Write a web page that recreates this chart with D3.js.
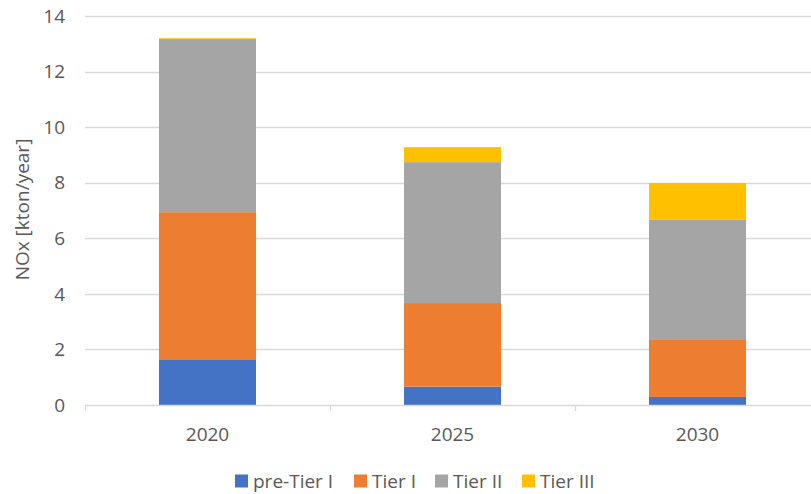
<!DOCTYPE html>
<html>
  <head>
    <meta charset="utf-8">
    <script src="https://cdnjs.cloudflare.com/ajax/libs/d3/7.8.5/d3.min.js"></script>
    <style>
      body { margin: 0; background: #fff; overflow: hidden; }
      text { font-family: "Open Sans", "Liberation Sans", sans-serif; fill: #595959; }
    </style>
  </head>
  <body>
    <div id="chart"></div>
    <script>
      // data
      var years = ["2020", "2025", "2030"];
      var tiers = ["pre-Tier I", "Tier I", "Tier II", "Tier III"];
      var preTier1 = [1.62, 0.66, 0.29];
      var tier1 = [5.32, 3.01, 2.05];
      var tier2 = [6.23, 5.07, 4.34];
      var tier3 = [0.03, 0.54, 1.31];
      var yTicks = [0, 2, 4, 6, 8, 10, 12, 14];
      var colors = ["#4472C4", "#ED7D31", "#A5A5A5", "#FFC000"];

      var W = 811, H = 494;
      // the plot area runs a little past the right edge, as in the original
      var margin = {top: 16, left: 85, bottom: 89},
          width = 735,
          height = H - margin.top - margin.bottom;

      var rows = years.map(function(y, i) {
        return {year: y, "pre-Tier I": preTier1[i], "Tier I": tier1[i], "Tier II": tier2[i], "Tier III": tier3[i]};
      });
      var stacked = d3.stack().keys(tiers)(rows);

      var x = d3.scaleBand().domain(years).range([0, width]).paddingInner(0.604).paddingOuter(0.302);
      var xOuter = d3.scaleBand().domain(years).range([0, width]);
      var y = d3.scaleLinear().domain([0, 14]).range([height, 0]);
      var color = d3.scaleOrdinal().domain(tiers).range(colors);

      var svg = d3.select("#chart").append("svg")
          .attr("width", W)
          .attr("height", H);
      var g = svg.append("g")
          .attr("transform", "translate(" + margin.left + "," + margin.top + ")");

      // gridlines
      g.selectAll(".grid")
          .data(yTicks.filter(function(d) { return d > 0; }))
          .enter().append("line")
          .attr("x1", 0).attr("x2", width)
          .attr("y1", function(d) { return Math.round(y(d)) + 0.5; })
          .attr("y2", function(d) { return Math.round(y(d)) + 0.5; })
          .attr("stroke", "#D9D9D9")
          .attr("stroke-width", 1.3);

      // y tick labels
      g.selectAll(".ylab")
          .data(yTicks)
          .enter().append("text")
          .attr("x", -20)
          .attr("y", function(d) { return y(d); })
          .attr("dy", "0.35em")
          .attr("text-anchor", "end")
          .style("font-size", "19px")
          .text(function(d) { return d; });

      // bars
      g.selectAll(".layer")
          .data(stacked)
          .enter().append("g")
          .attr("fill", function(d) { return color(d.key); })
          .selectAll("rect")
          .data(function(d) { return d; })
          .enter().append("rect")
          .attr("x", function(d) { return x(d.data.year); })
          .attr("width", x.bandwidth())
          .attr("y", function(d) { return y(d[1]); })
          .attr("height", function(d) { return y(d[0]) - y(d[1]); });

      // x axis line and tick marks at category boundaries
      g.append("line")
          .attr("x1", 0).attr("x2", width)
          .attr("y1", height + 0.5).attr("y2", height + 0.5)
          .attr("stroke", "#D9D9D9").attr("stroke-width", 1.3);
      var bounds = years.map(function(d) { return xOuter(d); }).concat([width]);
      g.selectAll(".xtick")
          .data(bounds)
          .enter().append("line")
          .attr("x1", function(d) { return Math.round(d) + 0.5; })
          .attr("x2", function(d) { return Math.round(d) + 0.5; })
          .attr("y1", height).attr("y2", height + 6)
          .attr("stroke", "#D9D9D9").attr("stroke-width", 1.3);

      g.selectAll(".xlab")
          .data(years)
          .enter().append("text")
          .attr("x", function(d) { return x(d) + x.bandwidth() / 2; })
          .attr("y", height + 29)
          .attr("dy", "0.35em")
          .attr("text-anchor", "middle")
          .style("font-size", "19px")
          .text(function(d) { return d; });

      // y axis title
      svg.append("text")
          .attr("transform", "translate(22," + (margin.top + height / 2 - 1) + ") rotate(-90)")
          .attr("text-anchor", "middle")
          .attr("dy", "0.35em")
          .style("font-size", "19px")
          .text("NOx [kton/year]");

      // legend
      var legendX = [235, 354, 435, 522];
      var legend = svg.selectAll(".legend")
          .data(tiers)
          .enter().append("g")
          .attr("transform", function(d, i) { return "translate(" + legendX[i] + ",481)"; });
      legend.append("rect")
          .attr("x", 0).attr("y", -6.5)
          .attr("width", 13).attr("height", 13)
          .attr("fill", function(d) { return color(d); });
      legend.append("text")
          .attr("x", 18)
          .attr("dy", "0.35em")
          .style("font-size", "19px")
          .text(function(d) { return d; });
    </script>
  </body>
</html>
